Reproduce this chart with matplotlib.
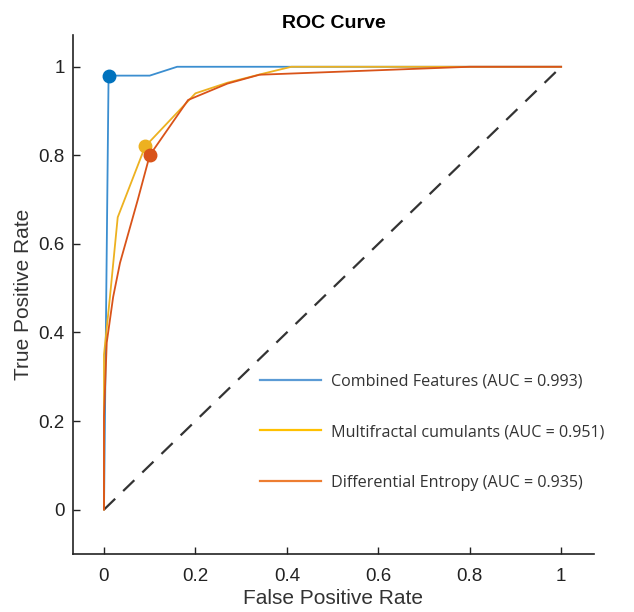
import matplotlib
matplotlib.use("Agg")
import matplotlib.pyplot as plt
from matplotlib.lines import Line2D
from matplotlib.ticker import FuncFormatter

# === ROC DATA ===
fpr_comb = [0, 0.01, 0.10, 0.16, 1.0]
tpr_comb = [0, 0.98, 0.98, 1.00, 1.0]

fpr_mf = [0, 0, 0.013, 0.03, 0.09, 0.20, 0.27, 0.35, 0.41, 1.0]
tpr_mf = [0, 0.35, 0.48, 0.66, 0.82, 0.94, 0.964, 0.985, 1.0, 1.0]

fpr_de = [0, 0, 0.006, 0.02, 0.035, 0.074, 0.10, 0.184, 0.27, 0.34, 0.80, 1.0]
tpr_de = [0, 0.21, 0.377, 0.48, 0.557, 0.70, 0.80, 0.925, 0.962, 0.982, 1.0, 1.0]

# operating points
op_comb = (0.01, 0.98)
op_mf = (0.09, 0.82)
op_de = (0.10, 0.80)

labels = ["Combined Features (AUC = 0.993)",
          "Multifractal cumulants (AUC = 0.951)",
          "Differential Entropy (AUC = 0.935)"]

ticks = [0, 0.2, 0.4, 0.6, 0.8, 1]

# MATLAB line colours and the office-style legend colours
c_blue, c_yellow, c_red = "#0072BD", "#EDB120", "#D95319"
leg_colors = ["#5B9BD5", "#FFC000", "#ED7D31"]

fig = plt.figure(figsize=(6.34, 6.12), dpi=100)
ax = fig.add_axes([0.115, 0.095, 0.822, 0.848])

ax.plot([0, 1], [0, 1], color="#333333", linestyle=(0, (7, 5)), linewidth=1.6)
ax.plot(fpr_comb, tpr_comb, color="#3b8ed0", linewidth=1.3)
ax.plot(fpr_mf, tpr_mf, color=c_yellow, linewidth=1.3)
ax.plot(fpr_de, tpr_de, color=c_red, linewidth=1.3)

ax.plot(*op_comb, "o", color=c_blue, markersize=9)
ax.plot(*op_mf, "o", color=c_yellow, markersize=9)
ax.plot(*op_de, "o", color=c_red, markersize=9)

ax.set_xlim(-0.068, 1.072)
ax.set_ylim(-0.1, 1.072)
ax.set_xticks(ticks)
ax.set_yticks(ticks)
fmt = FuncFormatter(lambda v, p: "%g" % v)
ax.xaxis.set_major_formatter(fmt)
ax.yaxis.set_major_formatter(fmt)

for s in ["top", "right"]:
    ax.spines[s].set_visible(False)
for s in ["left", "bottom"]:
    ax.spines[s].set_color("#222222")
    ax.spines[s].set_linewidth(1.2)
ax.tick_params(direction="in", length=5, width=1, colors="#222222",
               labelsize=13.5)
ax.tick_params(axis="x", pad=10)
ax.tick_params(axis="y", pad=6)
for t in ax.get_xticklabels() + ax.get_yticklabels():
    t.set_family("Liberation Sans")

ax.set_xlabel("False Positive Rate", family="Liberation Sans", fontsize=15,
              color="#333333", labelpad=3)
ax.set_ylabel("True Positive Rate", family="Liberation Sans", fontsize=15,
              color="#333333", labelpad=4)
ax.set_title("ROC Curve", family="Liberation Sans", fontweight="bold",
             fontsize=14, pad=5)

handles = [Line2D([0], [0], color=c, linewidth=1.6) for c in leg_colors]
leg = ax.legend(handles, labels, loc="upper left", bbox_to_anchor=(0.347, 0.36),
                frameon=False, handlelength=3.8, handletextpad=0.6,
                labelspacing=2.15, borderaxespad=0,
                prop={"family": "Open Sans", "size": 11.6})
for t in leg.get_texts():
    t.set_color("#333333")

fig.savefig("out.png", dpi=100)
